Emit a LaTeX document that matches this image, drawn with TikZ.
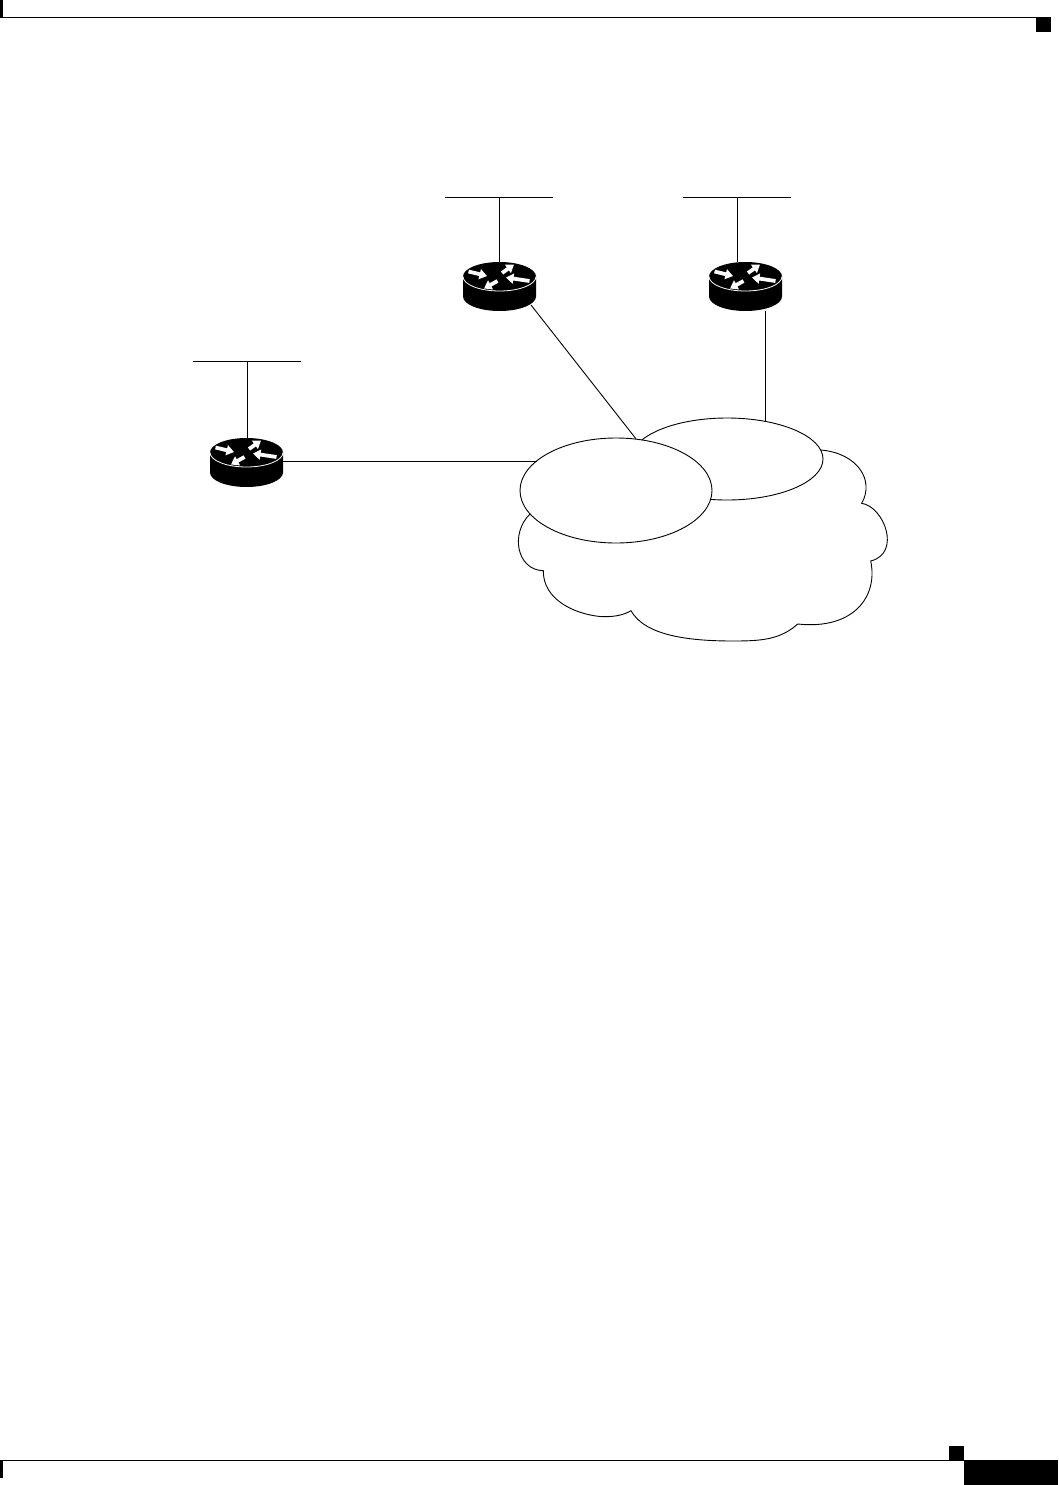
\documentclass[tikz,border=0pt]{standalone}
\usetikzlibrary{shapes.geometric, arrows.meta}

\tikzset{
    router/.pic={
        \fill (-36.5,0) -- (-36.5,20) arc[start angle=180, end angle=0, x radius=36.5, y radius=14.5] -- (36.5,0)
            arc[start angle=0, end angle=-180, x radius=36.5, y radius=14.5] -- cycle;
        \draw[white, line width=0.8pt] (-36.5,0) arc[start angle=180, end angle=0, x radius=36.5, y radius=14.5];
        \foreach \tail/\tip in {{(-31,-5)}/{(-12.5,-0.5)}, {(2.5,-3.5)}/{(14.5,-12)}, {(30,4.5)}/{(6.5,1)}, {(-2,4.5)}/{(-15.5,12)}}
            \draw[flow] \tail -- \tip;
        \coordinate (-top) at (0,-14.5);
    }
}

\begin{document}
\begin{tikzpicture}[
    x=1pt, y=-1pt,
    thin line/.style={line width=0.9pt},
    flow/.style={white, line width=3.8pt, -{Triangle[length=7.5pt, width=10pt]}},
    net/.style={ellipse, draw, fill=white, inner sep=0pt, line width=0.9pt}
]
\useasboundingbox (0,0) rectangle (1058,1485);

% Page marks
\fill (0,0) rectangle (3,17);
\fill (1036,17) rectangle (1051,32);
\draw[thin line] (0,17) -- (1036,17);
\fill (0,1460) rectangle (3,1478);
\fill (949,1446) rectangle (964,1460);
\fill (964,1460) rectangle (1058,1485);
\draw[thin line] (0,1460) -- (964,1460);

% Cloud
\draw[thin line] (820.7,450)
    .. controls (857,453) and (875,480) .. (861.7,503.3)
    .. controls (884,506.7) and (901.7,553.3) .. (870.7,561)
    .. controls (878.3,596.7) and (853.3,630) .. (797.7,624)
    .. controls (780,640) and (760,641) .. (733,641)
    .. controls (690,641) and (645,636) .. (631,610.7)
    .. controls (622,616) and (612,617) .. (600,616.5)
    .. controls (575,614) and (543,600) .. (543.3,570.7)
    .. controls (516.7,570) and (510,533.3) .. (530,514);

% Overlapping networks
\node[net, minimum width=192pt, minimum height=82pt] (netb) at (727,459) {};
\node[net, minimum width=192pt, minimum height=105pt] (neta) at (616,490.5) {};

% Routers
\pic (ra) at (246.5,452.5) {router};
\pic (rb) at (499.5,276.5) {router};
\pic (rc) at (745.5,276.5) {router};

% LAN segments
\coordinate (lana) at (247,361);
\coordinate (lanb) at (499,197);
\coordinate (lanc) at (737,197);
\draw[thin line] (193,361) -- (301,361);
\draw[thin line] (445,197) -- (553,197);
\draw[thin line] (683,197) -- (791,197);
\draw[thin line] (lana) -- (lana |- ra-top);
\draw[thin line] (lanb) -- (lanb |- rb-top);
\draw[thin line] (lanc) -- (lanc |- rc-top);

% Links
\coordinate (pa) at (283,461);
\coordinate (pb) at (531,305);
\coordinate (pc) at (765,311);
\draw[thin line] (pa) -- (pa -| neta.159.5);
\draw[thin line] (pb) -- (neta.69);
\draw[thin line] (pc) -- (pc |- netb.45);
\end{tikzpicture}
\end{document}
